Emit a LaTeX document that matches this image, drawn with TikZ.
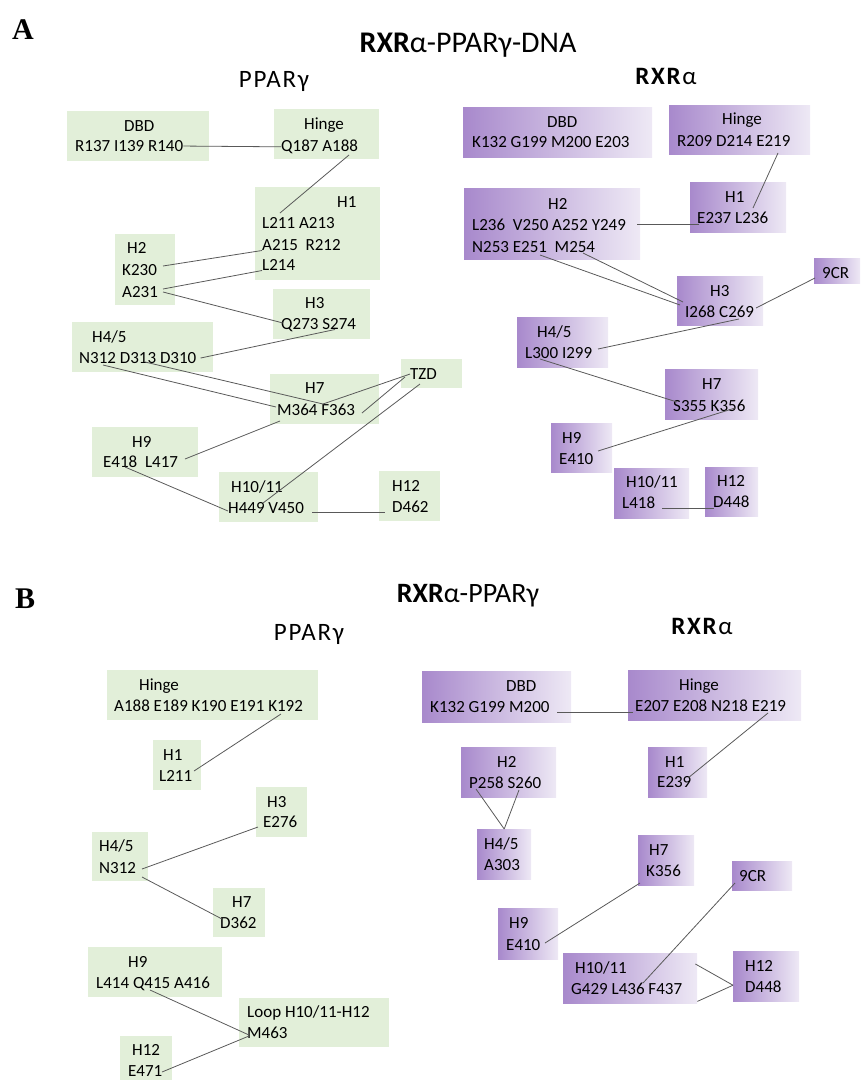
\documentclass[tikz,border=0pt]{standalone}
\usepackage{fontspec}
\setmainfont{Carlito}
\newfontfamily\subfnt[LetterSpace=7]{Carlito}
\newfontfamily\tagfnt{Liberation Serif}
\definecolor{hgreen}{RGB}{226,239,217}
\definecolor{rxrdark}{RGB}{168,137,204}
\definecolor{rxrlight}{RGB}{238,233,245}
\definecolor{linkgray}{RGB}{89,89,89}
\newcommand\resfnt{\fontsize{17}{20}\selectfont}

\begin{document}
\begin{tikzpicture}[
    x=1pt, y=-1pt,
    gbox/.style={fill=hgreen, inner sep=0pt, anchor=north west},
    pbox/.style={left color=rxrdark, right color=rxrlight, inner sep=0pt, anchor=north west},
    res/.style={font=\resfnt, text=black, inner sep=0pt, anchor=base west},
    link/.style={draw=linkgray, line width=0.8pt},
    tag/.style={font=\tagfnt\bfseries\fontsize{30}{30}\selectfont, inner sep=0pt, anchor=base west},
    title/.style={font=\fontsize{30}{34}\selectfont, inner sep=0pt, anchor=base},
    subhead/.style={font=\subfnt\fontsize{25}{28}\selectfont, inner sep=0pt, anchor=base},
]
\useasboundingbox (0,0) rectangle (860,1082);

% === Panel A: RXRa-PPARg-DNA ===
\node[tag] (tagA) at (12,39) {A};
\node[title] (titleA) at (468,52) {\textbf{RXR}α-PPARγ-DNA};
\node[subhead] (pparA) at (274,87) {PPARγ};
\node[subhead] (rxrA) at (666,84) {\textbf{RXR}α};

% PPARg boxes
\node[gbox, minimum width=142pt, minimum height=50pt] (aDBD) at (67,111) {};
\node[gbox, minimum width=105pt, minimum height=50pt] (aHng) at (274,109) {};
\node[gbox, minimum width=125pt, minimum height=93pt] (aH1) at (255,187) {};
\node[gbox, minimum width=60pt, minimum height=71pt] (aH2) at (115,234) {};
\node[gbox, minimum width=97pt, minimum height=50pt] (aH3) at (273,289) {};
\node[gbox, minimum width=141pt, minimum height=50pt] (aH45) at (72,322) {};
\node[gbox, minimum width=109pt, minimum height=50pt] (aH7) at (270,374) {};
\node[gbox, minimum width=61pt, minimum height=29pt] (aTZD) at (401,359) {};
\node[gbox, minimum width=106pt, minimum height=50pt] (aH9) at (92,427) {};
\node[gbox, minimum width=99pt, minimum height=50pt] (aH1011) at (219,472) {};
\node[gbox, minimum width=61pt, minimum height=50pt] (aH12) at (379,471) {};

\node[res] (aDBDh) at (124,131.5) {DBD};
\node[res] (aDBDr) at (75,151.5) {R137 I139 R140};
\node[res] (aHngh) at (304,129.5) {Hinge};
\node[res] (aHngr) at (281,151.5) {Q187 A188};
\node[res] (aH1h) at (337,207.5) {H1};
\node[res] (aH1a) at (262,228.5) {L211 A213};
\node[res] (aH1b) at (262,250.5) {A215\ \ R212};
\node[res] (aH1c) at (262,270.5) {L214};
\node[res] (aH2h) at (127,253.5) {H2};
\node[res] (aH2a) at (122,275.5) {K230};
\node[res] (aH2b) at (122,297.5) {A231};
\node[res] (aH3h) at (305,308.5) {H3};
\node[res] (aH3r) at (281,329.5) {Q273 S274};
\node[res] (aH45h) at (92,342.5) {H4/5};
\node[res] (aH45r) at (79,363.5) {N312 D313 D310};
\node[res] (aH7h) at (305,393.5) {H7};
\node[res] (aH7r) at (277,415.5) {M364 F363};
\node[res] (aTZDh) at (410,379.5) {TZD};
\node[res] (aH9h) at (132,447.5) {H9};
\node[res] (aH9r) at (103,467.5) {E418\ \ L417};
\node[res] (aH1011h) at (231,492.5) {H10/11};
\node[res] (aH1011r) at (228,513.5) {H449 V450};
\node[res] (aH12h) at (392,491.5) {H12};
\node[res] (aH12r) at (392,512.5) {D462};

% RXRa boxes
\node[pbox, minimum width=189pt, minimum height=50pt] (rDBD) at (463,107) {};
\node[pbox, minimum width=141pt, minimum height=49pt] (rHng) at (669,105) {};
\node[pbox, minimum width=96pt, minimum height=50pt] (rH1) at (690,182) {};
\node[pbox, minimum width=176pt, minimum height=71pt] (rH2) at (464,188) {};
\node[pbox, minimum width=86pt, minimum height=49pt] (rH3) at (677,276) {};
\node[pbox, minimum width=46pt, minimum height=25pt] (r9CR) at (814,258) {};
\node[pbox, minimum width=91pt, minimum height=50pt] (rH45) at (517,317) {};
\node[pbox, minimum width=93pt, minimum height=50pt] (rH7) at (665,369) {};
\node[pbox, minimum width=61pt, minimum height=49pt] (rH9) at (551,423) {};
\node[pbox, minimum width=75pt, minimum height=50pt] (rH1011) at (614,468) {};
\node[pbox, minimum width=53pt, minimum height=49pt] (rH12) at (705,467) {};

\node[res] (rDBDh) at (547,127.5) {DBD};
\node[res] (rDBDr) at (472,147.5) {K132 G199 M200 E203};
\node[res] (rHngh) at (722,124.5) {Hinge};
\node[res] (rHngr) at (677,146.5) {R209 D214 E219};
\node[res] (rH1h) at (725,202.5) {H1};
\node[res] (rH1r) at (697,223.5) {E237 L236};
\node[res] (rH2h) at (548,209.5) {H2};
\node[res] (rH2a) at (472,230.5) {L236\ \ V250 A252 Y249};
\node[res] (rH2b) at (472,252.5) {N253 E251\ \ M254};
\node[res] (rH3h) at (710,296.5) {H3};
\node[res] (rH3r) at (685,317.5) {I268 C269};
\node[res] (r9CRh) at (822,278.5) {9CR};
\node[res] (rH45h) at (537,337.5) {H4/5};
\node[res] (rH45r) at (525,358.5) {L300 I299};
\node[res] (rH7h) at (702,389.5) {H7};
\node[res] (rH7r) at (673,411.5) {S355 K356};
\node[res] (rH9h) at (562,443.5) {H9};
\node[res] (rH9r) at (559,464.5) {E410};
\node[res] (rH1011h) at (626,487.5) {H10/11};
\node[res] (rH1011r) at (622,508.5) {L418};
\node[res] (rH12h) at (717,486.5) {H12};
\node[res] (rH12r) at (713,507.5) {D448};

% contacts, panel A
\draw[link] (aDBDr.east) -- (aHngr.west);
\draw[link] ([shift={(68,3.5)}]aHngr.base west) -- ([shift={(18,-15.5)}]aH1a.base west);
\draw[link] ([shift={(41,-9.5)}]aH2a.base west) -- (aH1b.base west);
\draw[link] ([shift={(41,-8.5)}]aH2b.base west) -- (aH1c.base west);
\draw[link] ([shift={(41,-5.5)}]aH2b.base west) -- ([shift={(2,-6.5)}]aH3r.base west);
\draw[link] ([xshift=4pt]aH45r.east) -- ([shift={(54,0)}]aH3r.base west);
\draw[link] ([shift={(24,1.5)}]aH45r.base west) -- ([shift={(-1,-8.5)}]aH7r.base west);
\draw[link] ([shift={(66,-1.5)}]aH45r.base west) -- ([shift={(46,-11.5)}]aH7r.base west);
\draw[link] (aTZDh.west) -- ([shift={(46,-11.5)}]aH7r.base west);
\draw[link] ([shift={(85,-2.5)}]aH7r.base west) -- ([shift={(-5,-2.5)}]aTZDh.base west);
\draw[link] ([shift={(10,4.5)}]aTZDh.base west) -- ([shift={(35,-10.5)}]aH1011r.base west);
\draw[link] ([shift={(82,-8.5)}]aH9r.base west) -- ([shift={(3,5.5)}]aH7r.base west);
\draw[link] ([shift={(22,-0.5)}]aH9r.base west) -- ([shift={(0,-2.5)}]aH1011r.base west);
\draw[link] ([shift={(84,-1.5)}]aH1011r.base west) -- ([shift={(-7,-0.5)}]aH12r.base west);

\draw[link] ([shift={(101,6.5)}]rHngr.base west) -- ([shift={(56,-15.5)}]rH1r.base west);
\draw[link] ([shift={(165,-6.5)}]rH2a.base west) -- ([shift={(2,0.5)}]rH1r.base west);
\draw[link] ([shift={(68,2.5)}]rH2b.base west) -- ([shift={(-5,-12.5)}]rH3r.base west);
\draw[link] ([shift={(111,0.5)}]rH2b.base west) -- ([shift={(-2,-15.5)}]rH3r.base west);
\draw[link] ([shift={(71,-9.5)}]rH3r.base west) -- ([shift={(-7,-0.5)}]r9CRh.base west);
\draw[link] ([shift={(73,-9.5)}]rH45r.base west) -- ([shift={(54,1.5)}]rH3r.base west);
\draw[link] ([shift={(15,0.5)}]rH45r.base west) -- ([shift={(4,-9.5)}]rH7r.base west);
\draw[link] ([shift={(39,-13.5)}]rH9r.base west) -- ([shift={(62,-3.5)}]rH7r.base west);
\draw[link] ([shift={(40,-0.5)}]rH1011r.base west) -- ([shift={(1,0.5)}]rH12r.base west);

% === Panel B: RXRa-PPARg ===
\node[tag] (tagB) at (15,608) {B};
\node[title, font=\fontsize{28}{32}\selectfont] (titleB) at (468,602) {\textbf{RXR}α-PPARγ};
\node[subhead] (pparB) at (309,640) {PPARγ};
\node[subhead] (rxrB) at (702,634) {\textbf{RXR}α};

% PPARg boxes
\node[gbox, minimum width=211pt, minimum height=50pt] (bHng) at (107,670) {};
\node[gbox, minimum width=48pt, minimum height=50pt] (bH1) at (153,740) {};
\node[gbox, minimum width=51pt, minimum height=50pt] (bH3) at (256,787) {};
\node[gbox, minimum width=56pt, minimum height=49pt] (bH45) at (92,832) {};
\node[gbox, minimum width=52pt, minimum height=49pt] (bH7) at (213,888) {};
\node[gbox, minimum width=134pt, minimum height=50pt] (bH9) at (88,947) {};
\node[gbox, minimum width=150pt, minimum height=49pt] (bLoop) at (239,998) {};
\node[gbox, minimum width=52pt, minimum height=44pt] (bH12) at (120,1036) {};

\node[res] (bHngh) at (139,690.5) {Hinge};
\node[res] (bHngr) at (114,711.5) {A188 E189 K190 E191 K192};
\node[res] (bH1h) at (163,760.5) {H1};
\node[res] (bH1r) at (159,781.5) {L211};
\node[res] (bH3h) at (267,807.5) {H3};
\node[res] (bH3r) at (263,827.5) {E276};
\node[res] (bH45h) at (99,851.5) {H4/5};
\node[res] (bH45r) at (99,873.5) {N312};
\node[res] (bH7h) at (232,907.5) {H7};
\node[res] (bH7r) at (220,928.5) {D362};
\node[res] (bH9h) at (128,967.5) {H9};
\node[res] (bH9r) at (96,988.5) {L414 Q415 A416};
\node[res] (bLooph) at (247,1017.5) {Loop H10/11-H12};
\node[res] (bLoopr) at (247,1038.5) {M463};
\node[res] (bH12h) at (132,1055.5) {H12};
\node[res] (bH12r) at (128,1076.5) {E471};

% RXRa boxes
\node[pbox, minimum width=149pt, minimum height=51pt] (sDBD) at (422,671) {};
\node[pbox, minimum width=173pt, minimum height=50pt] (sHng) at (628,670) {};
\node[pbox, minimum width=59pt, minimum height=50pt] (sH1) at (648,747) {};
\node[pbox, minimum width=95pt, minimum height=50pt] (sH2) at (461,747) {};
\node[pbox, minimum width=54pt, minimum height=50pt] (sH45) at (477,829) {};
\node[pbox, minimum width=56pt, minimum height=50pt] (sH7) at (638,835) {};
\node[pbox, minimum width=60pt, minimum height=29pt] (s9CR) at (732,861) {};
\node[pbox, minimum width=60pt, minimum height=51pt] (sH9) at (498,908) {};
\node[pbox, minimum width=134pt, minimum height=50pt] (sH1011) at (563,953) {};
\node[pbox, minimum width=66pt, minimum height=50pt] (sH12) at (733,951) {};

\node[res] (sDBDh) at (506,691.5) {DBD};
\node[res] (sDBDr) at (430,712.5) {K132 G199 M200};
\node[res] (sHngh) at (679,690.5) {Hinge};
\node[res] (sHngr) at (635,711.5) {E207 E208 N218 E219};
\node[res] (sH1h) at (665,767.5) {H1};
\node[res] (sH1r) at (657,787.5) {E239};
\node[res] (sH2h) at (497,767.5) {H2};
\node[res] (sH2r) at (469,788.5) {P258 S260};
\node[res] (sH45h) at (484,849.5) {H4/5};
\node[res] (sH45r) at (484,870.5) {A303};
\node[res] (sH7h) at (649,855.5) {H7};
\node[res] (sH7r) at (646,876.5) {K356};
\node[res] (s9CRh) at (739,881.5) {9CR};
\node[res] (sH9h) at (509,928.5) {H9};
\node[res] (sH9r) at (506,950.5) {E410};
\node[res] (sH1011h) at (575,973.5) {H10/11};
\node[res] (sH1011r) at (571,994.5) {G429 L436 F437};
\node[res] (sH12h) at (745,971.5) {H12};
\node[res] (sH12r) at (745,992.5) {D448};

% contacts, panel B
\draw[link] ([shift={(167,2.5)}]bHngr.base west) -- ([shift={(35,-10.5)}]bH1r.base west);
\draw[link] ([shift={(43,-4.5)}]bH45r.base west) -- ([shift={(-5,-0.5)}]bH3r.base west);
\draw[link] ([shift={(43,3.5)}]bH45r.base west) -- ([shift={(2,-9.5)}]bH7r.base west);
\draw[link] ([shift={(54,1.5)}]bH9r.base west) -- ([shift={(2,-3.5)}]bLoopr.base west);
\draw[link] ([shift={(34,-4.5)}]bH12r.base west) -- ([shift={(2,-2.5)}]bLoopr.base west);

\draw[link] ([shift={(127,-0.5)}]sDBDr.base west) -- ([shift={(-2,0.5)}]sHngr.base west);
\draw[link] ([shift={(133,1.5)}]sHngr.base west) -- ([shift={(31,-9.5)}]sH1r.base west);
\draw[link] ([shift={(7,0.5)}]sH2r.base west) -- (sH45.north);
\draw[link] ([shift={(50,1.5)}]sH2r.base west) -- (sH45.north);
\draw[link] ([shift={(39,-7.5)}]sH9r.base west) -- ([shift={(-6,6.5)}]sH7r.base west);
\draw[link] ([shift={(72,-11.5)}]sH1011r.base west) -- ([shift={(-4,1.5)}]s9CRh.base west);
\draw[link] ([shift={(-2,11)}]sH1011.north east) -- ([shift={(0,9)}]sH12.west);
\draw[link] ([shift={(0,-2)}]sH1011.south east) -- ([shift={(0,9)}]sH12.west);

\end{tikzpicture}
\end{document}
